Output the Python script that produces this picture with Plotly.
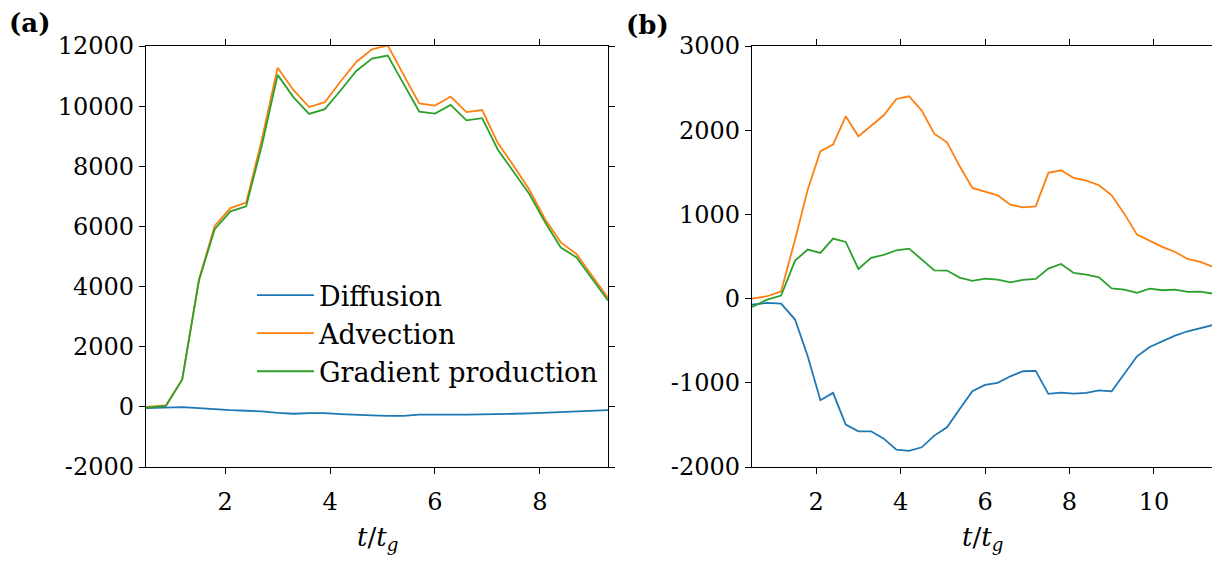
import plotly.graph_objects as go

# ---------------- data ----------------
t_a = [0.49, 0.87, 1.18, 1.5, 1.8, 2.1, 2.4, 2.7, 3.0, 3.3, 3.6, 3.9, 4.2, 4.5, 4.8,
       5.1, 5.4, 5.7, 6.0, 6.3, 6.6, 6.9, 7.2, 7.5, 7.8, 8.1, 8.4, 8.7, 9.0, 9.3]
diff_a = [-40, -10, -10, -40, -80, -110, -130, -150, -200, -230, -210, -210, -240, -270, -280,
          -300, -300, -260, -250, -260, -260, -255, -245, -230, -215, -190, -160, -150, -130, -110]
adv_a = [0, 50, 910, 4240, 6020, 6610, 6790, 8900, 11280, 10540, 9970, 10130, 10820, 11470, 11890,
         12020, 11050, 10090, 10020, 10320, 9800, 9870, 8770, 8020, 7220, 6240, 5470, 5080, 4350, 3630]
grad_a = [-30, 30, 900, 4200, 5910, 6500, 6670, 8700, 11040, 10300, 9740, 9900, 10520, 11170, 11580,
          11680, 10750, 9820, 9750, 10040, 9530, 9600, 8550, 7800, 7080, 6140, 5300, 4970, 4240, 3540]

t_b = [0.48, 0.84, 1.17, 1.5, 1.8, 2.1, 2.4, 2.7, 3.0, 3.3, 3.6, 3.9, 4.2, 4.5, 4.8, 5.1, 5.4,
       5.7, 6.0, 6.3, 6.6, 6.9, 7.2, 7.5, 7.8, 8.1, 8.4, 8.7, 9.0, 9.3, 9.6, 9.9, 10.2, 10.5,
       10.8, 11.1, 11.4]
diff_b = [-71, -51, -59, -249, -685, -1207, -1120, -1496, -1576, -1576, -1663, -1793, -1809, -1766,
          -1627, -1528, -1310, -1101, -1025, -1001, -923, -863, -859, -1132, -1116, -1128, -1120,
          -1089, -1101, -891, -685, -574, -507, -439, -388, -353, -313]
adv_b = [0, 28, 87, 700, 1294, 1750, 1829, 2165, 1927, 2055, 2177, 2371, 2403, 2233, 1956, 1856,
         1571, 1315, 1274, 1227, 1116, 1084, 1096, 1493, 1524, 1433, 1401, 1346, 1227, 1006, 760,
         689, 614, 554, 471, 436, 376]
grad_b = [-99, -12, 36, 451, 582, 543, 713, 673, 352, 483, 519, 574, 594, 463, 336, 333, 249, 210,
          238, 226, 194, 222, 234, 356, 412, 305, 285, 253, 122, 107, 68, 119, 99, 107, 80, 83, 59]

series_names = ["Diffusion", "Advection", "Gradient production"]
colors = ["#1f77b4", "#ff7f0e", "#2ca02c"]

xticks_a = [2, 4, 6, 8]
xticks_b = [2, 4, 6, 8, 10]
yticks_a = [-2000, 0, 2000, 4000, 6000, 8000, 10000, 12000]
yticks_b = [-2000, -1000, 0, 1000, 2000, 3000]

# ---------------- figure ----------------
FONT = "DejaVu Serif"
fig = go.Figure()
for name, ys, c in zip(series_names, [diff_a, adv_a, grad_a], colors):
    fig.add_trace(go.Scatter(x=t_a, y=ys, mode="lines", name=name,
                             line=dict(color=c, width=1.8), xaxis="x", yaxis="y"))
for name, ys, c in zip(series_names, [diff_b, adv_b, grad_b], colors):
    fig.add_trace(go.Scatter(x=t_b, y=ys, mode="lines", name=name, showlegend=False,
                             line=dict(color=c, width=1.8), xaxis="x2", yaxis="y2"))

OFF = 8  # page body margin
W, H = 1220 - OFF, 561 - OFF
TOP, BOT = 46 - OFF, 467 - OFF          # plot area in figure px
MT, MB = TOP, H - BOT
plot_h = BOT - TOP

def fx(sx):
    return (sx - OFF) / W

def fy(sy):
    return (BOT - (sy - OFF)) / plot_h

def ax_common():
    return dict(showline=True, linecolor="black", linewidth=1.3, mirror="ticks",
                ticks="outside", ticklen=6, tickwidth=1.3, tickcolor="black",
                showgrid=False, zeroline=False,
                tickfont=dict(family=FONT, size=24, color="black"))

def ylab(v):
    return ("-" + str(-v)) if v < 0 else str(v)

fig.update_layout(
    width=W, height=H, autosize=False,
    margin=dict(l=0, r=0, t=MT, b=MB),
    paper_bgcolor="white", plot_bgcolor="white",
    font=dict(family=FONT, color="black"),
    xaxis=dict(domain=[fx(146), fx(608)], range=[min(t_a), max(t_a)], tickvals=xticks_a,
               ticklabelstandoff=7, anchor="y", **ax_common()),
    yaxis=dict(domain=[0, 1], range=[-2000, 12000], tickvals=yticks_a,
               ticktext=[ylab(v) for v in yticks_a], ticklabelstandoff=0, anchor="x", **ax_common()),
    xaxis2=dict(domain=[fx(752), fx(1213)], range=[min(t_b), max(t_b)], tickvals=xticks_b,
                ticklabelstandoff=7, anchor="y2", **ax_common()),
    yaxis2=dict(domain=[0, 1], range=[-2000, 3000], tickvals=yticks_b,
                ticktext=[ylab(v) for v in yticks_b], ticklabelstandoff=0, anchor="x2", **ax_common()),
    legend=dict(x=fx(252), xanchor="left", y=fy(271), yanchor="top",
                yref="paper", bgcolor="rgba(0,0,0,0)", borderwidth=0,
                font=dict(family=FONT, size=27, color="black"),
                itemwidth=57, tracegroupgap=0),
    showlegend=True,
)

title = "<i>t</i>/<i>t</i><sub><i>g</i></sub>"
annots = [
    dict(text=title, x=fx(377), y=fy(538), xref="paper", yref="paper",
         xanchor="center", yanchor="middle", showarrow=False,
         font=dict(family=FONT, size=26, color="black")),
    dict(text=title, x=fx((752 + 1213) / 2), y=fy(538), xref="paper", yref="paper",
         xanchor="center", yanchor="middle", showarrow=False,
         font=dict(family=FONT, size=26, color="black")),
    dict(text="<b>(a)</b>", x=fx(29), y=fy(23), xref="paper", yref="paper",
         xanchor="center", yanchor="middle", showarrow=False,
         font=dict(family=FONT, size=26, color="black")),
    dict(text="<b>(b)</b>", x=fx(648), y=fy(25), xref="paper", yref="paper",
         xanchor="center", yanchor="middle", showarrow=False,
         font=dict(family=FONT, size=26, color="black")),
]
fig.update_layout(annotations=annots)

fig.write_html("out.html")
